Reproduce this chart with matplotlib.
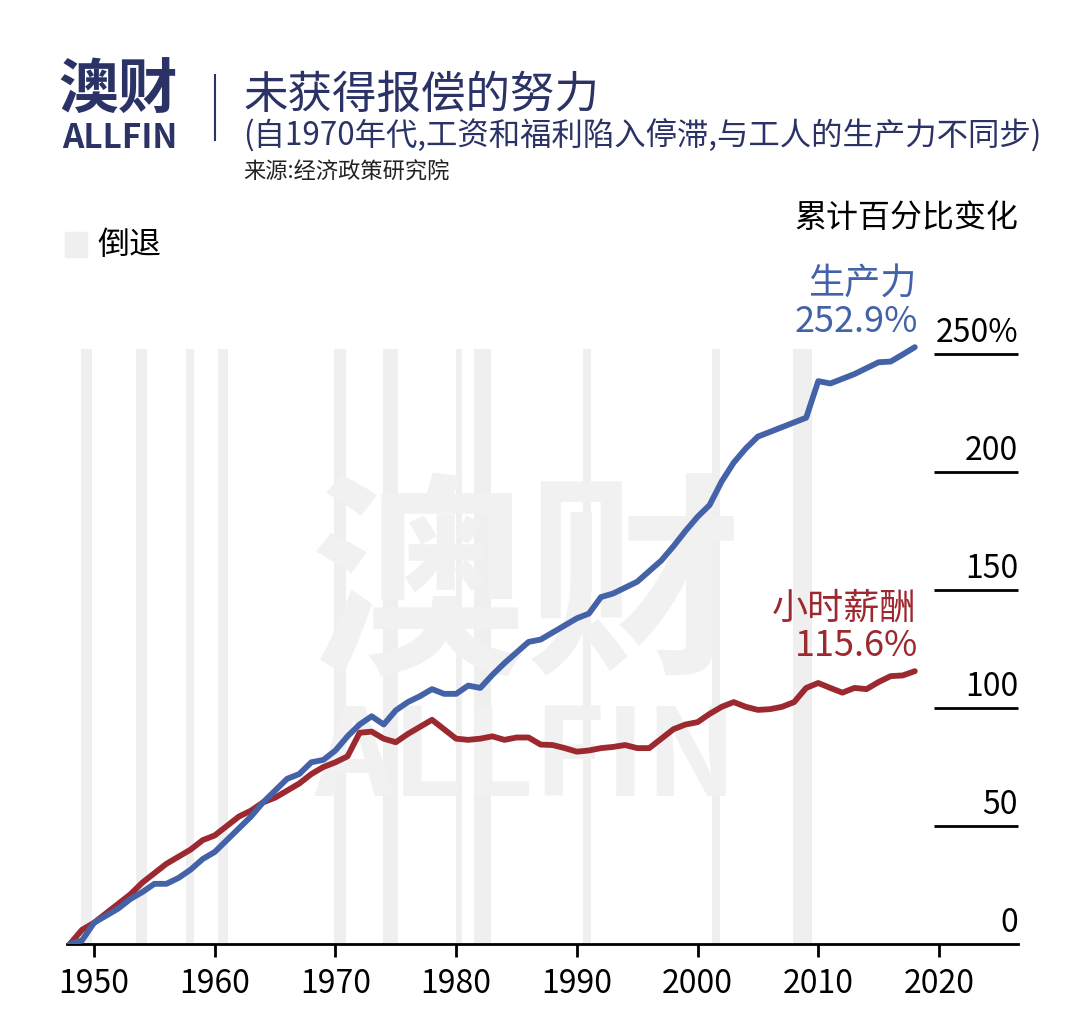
import matplotlib
matplotlib.use('Agg')
import matplotlib.pyplot as plt
from matplotlib.patches import Rectangle

plt.rcParams['font.family'] = ['Noto Sans CJK SC', 'DejaVu Sans']

# 数据：1948年以来的累计百分比变化
years = list(range(1948, 2019))
productivity = [0, 1.5, 9, 12, 15, 19, 22, 25.5, 25.5, 28,
                31.5, 36, 39, 44, 49, 54, 60, 65, 70, 72,
                77, 78, 82, 88, 93, 96.5, 93, 99, 102.5, 105,
                108, 106, 106, 109.5, 108.5, 114, 119, 123.5, 128, 129,
                132, 135, 138, 140, 147, 148.5, 151, 153.5, 158, 162.5,
                168.5, 175, 181, 186, 196, 204, 210, 215, 217, 219,
                221, 223, 238.5, 237.5, 239.5, 241.5, 244, 246.5, 246.8, 249.8,
                252.9]
compensation = [0, 6, 9, 13, 17, 21, 26, 30, 34, 37,
                40, 44, 46, 50, 54, 56.5, 60, 62, 65, 68,
                72, 75, 77, 79.5, 89.5, 90, 87, 85.5, 89, 92,
                95, 91, 87, 86.5, 87, 88, 86.5, 87.5, 87.5, 84.5,
                84.3, 83, 81.5, 82, 83, 83.5, 84.3, 83, 83, 87,
                91, 93, 94, 97.5, 100.5, 102.5, 100.5, 99.2, 99.5, 100.5,
                102.5, 108.5, 110.6, 108.5, 106.5, 108.5, 108, 111, 113.5, 113.8,
                115.6]

# 经济衰退区间（起止年份）
recessions = [(1948.9, 1949.8), (1953.5, 1954.4), (1957.6, 1958.3), (1960.3, 1961.1),
              (1969.9, 1970.9), (1973.9, 1975.2), (1980.0, 1980.5), (1981.5, 1982.9),
              (1990.5, 1991.2), (2001.2, 2001.9), (2007.9, 2009.5)]

y_ticks = [0, 50, 100, 150, 200, 250]
x_ticks = [1950, 1960, 1970, 1980, 1990, 2000, 2010, 2020]

BLUE = '#4462a7'
RED = '#9c2830'
NAVY = '#2b3366'
BAND = '#efefef'

W, H = 1067, 1024
def fx(x):
    return x / W
def fy(y):
    return 1 - y / H

fig = plt.figure(figsize=(W / 100, H / 100), dpi=100)
ax = fig.add_axes([fx(67), fy(944), (1018 - 67) / W, (944 - 300) / H])
ax.set_xlim(1947.76, 2026.55)
ax.set_ylim(0, (944 - 300) / 2.36)

# 衰退阴影
for a, b in recessions:
    ax.bar(a, 252, width=b - a, align='edge', color=BAND, zorder=0, linewidth=0)

# 水印
ax.text(0.483, 0.545, '澳财', transform=ax.transAxes, fontsize=156, fontweight='bold',
        color='#f1f1f1', ha='center', va='center', zorder=1)
ax.text(0.483, 0.285, 'ALLFIN', transform=ax.transAxes, fontsize=88, fontweight='bold',
        color='#f1f1f1', ha='center', va='center', zorder=1)

ax.plot(years, compensation, color=RED, lw=4.2, zorder=3, solid_capstyle='round')
ax.plot(years, productivity, color=BLUE, lw=4.2, zorder=4, solid_capstyle='round')

# 坐标轴
for s in ['left', 'right', 'top']:
    ax.spines[s].set_visible(False)
ax.spines['bottom'].set_linewidth(2)
ax.set_xticks(x_ticks)
ax.set_xticklabels([str(t) for t in x_ticks])
ax.tick_params(axis='x', length=9, width=2, labelsize=23, pad=8)
ax.set_yticks([])

for v in y_ticks:
    if v > 0:
        ax.hlines(v, 2019.6, 2026.55, color='black', lw=2, clip_on=False)
    lab = '250%' if v == 250 else str(v)
    ax.text(2026.55, v + 5, lab, ha='right', va='baseline', fontsize=23, clip_on=False)

# 线条标注
fig.text(fx(916), fy(295), '生产力', color=BLUE, fontsize=26, ha='right', va='baseline')
fig.text(fx(918), fy(332), '252.9%', color=BLUE, fontsize=26, ha='right', va='baseline')
fig.text(fx(916), fy(619), '小时薪酬', color=RED, fontsize=26, ha='right', va='baseline')
fig.text(fx(918), fy(656), '115.6%', color=RED, fontsize=26, ha='right', va='baseline')

fig.text(fx(1018), fy(218), '累计百分比变化', fontsize=23, fontweight='medium',
         ha='right', va='center', color='black')
fig.patches.append(Rectangle((fx(65), fy(257)), 22 / W, 25 / H, transform=fig.transFigure,
                             color=BAND, zorder=0))
fig.text(fx(97), fy(245), '倒退', fontsize=23, fontweight='medium', ha='left', va='center', color='black')

# 标题区
fig.text(fx(58), fy(92), '澳财', fontsize=43, fontweight='heavy', color=NAVY, ha='left', va='center')
fig.text(fx(120), fy(138), 'ALLFIN', fontsize=24, fontweight='bold', color=NAVY, ha='center', va='center')
fig.lines.append(plt.Line2D([fx(215), fx(215)], [fy(75), fy(140)], transform=fig.transFigure,
                            color=NAVY, lw=1.5))
fig.text(fx(243), fy(95), '未获得报偿的努力', fontsize=32, color=NAVY, ha='left', va='center')
fig.text(fx(243), fy(136), '(自1970年代,工资和福利陷入停滞,与工人的生产力不同步)', fontsize=22.6,
         color=NAVY, ha='left', va='center')
fig.text(fx(243), fy(172), '来源:经济政策研究院', fontsize=16, color='#222222', ha='left', va='center')

fig.savefig('out.png', dpi=100)
